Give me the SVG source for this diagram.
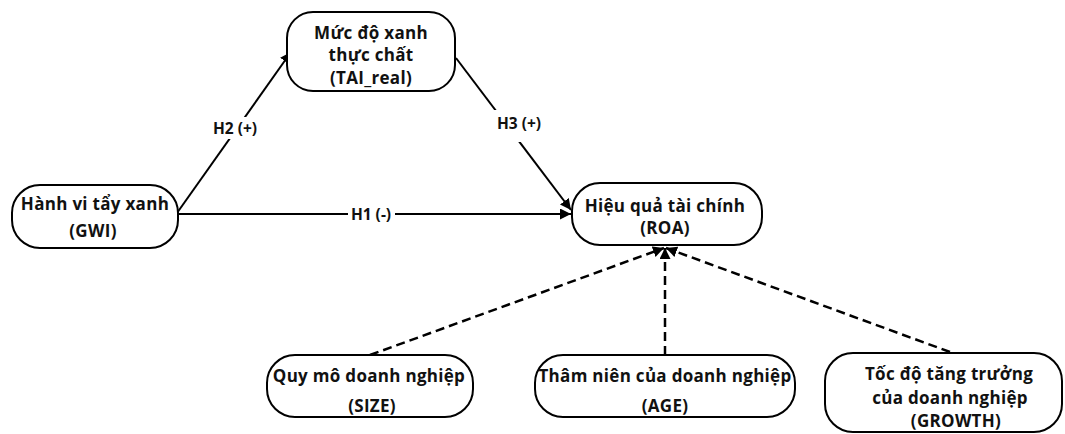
<svg xmlns="http://www.w3.org/2000/svg" width="1065" height="434" viewBox="0 0 1065 434">
<style>
.box{fill:#fff;stroke:#000;stroke-width:2}
.t{font-family:"Open Sans","Liberation Sans",sans-serif;font-weight:700;font-size:17px;letter-spacing:0.3px;fill:#111;text-anchor:middle;dominant-baseline:central}
.lbl{font-family:"Open Sans","Liberation Sans",sans-serif;font-weight:700;font-size:15.5px;fill:#111;text-anchor:middle;dominant-baseline:central}
.ln{stroke:#000;stroke-width:2;fill:none}
.dash{stroke:#000;stroke-width:2.5;fill:none;stroke-dasharray:9 5}
</style>
<defs>
<marker id="arr" viewBox="0 0 10 10" refX="10" refY="5" markerWidth="11" markerHeight="11" markerUnits="userSpaceOnUse" orient="auto">
<path d="M0,0 L10,5 L0,10 z" fill="#000"/>
</marker>
</defs>
<rect width="1065" height="434" fill="#fff"/>
<g id="connectors">
<line class="ln" x1="177" y1="213" x2="291" y2="52" marker-end="url(#arr)"/>
<line class="ln" x1="178" y1="214" x2="571" y2="214" marker-end="url(#arr)"/>
<line class="ln" x1="456" y1="58" x2="571" y2="210" marker-end="url(#arr)"/>
<line class="dash" x1="370" y1="355" x2="664" y2="248" marker-end="url(#arr)"/>
<line class="dash" x1="665" y1="355" x2="665" y2="248" marker-end="url(#arr)"/>
<line class="dash" x1="950" y1="352" x2="666" y2="248" marker-end="url(#arr)"/>
<rect x="209" y="117" width="52" height="22" fill="#fff"/>
<text class="lbl" x="235" y="128">H2 (+)</text>
<rect x="348" y="204" width="47" height="20" fill="#fff"/>
<text class="lbl" x="371" y="214">H1 (-)</text>
<rect x="493" y="110" width="52" height="32" fill="#fff"/>
<text class="lbl" x="519" y="123">H3 (+)</text>
</g>
<g id="node-tai">
<rect class="box" x="287" y="12" width="168" height="79" rx="26"/>
<text class="t" x="371" y="32">Mức độ xanh</text>
<text class="t" x="371" y="54">thực chất</text>
<text class="t" x="371" y="77">(TAI_real)</text>
</g>
<g id="node-gwi">
<rect class="box" x="12" y="185" width="166" height="63" rx="28"/>
<text class="t" x="95" y="203">Hành vi tẩy xanh</text>
<text class="t" x="93" y="230">(GWI)</text>
</g>
<g id="node-roa">
<rect class="box" x="572" y="183" width="190" height="62" rx="28"/>
<text class="t" x="665" y="205">Hiệu quả tài chính</text>
<text class="t" x="665" y="227">(ROA)</text>
</g>
<g id="node-size">
<rect class="box" x="267" y="355" width="206" height="62" rx="28"/>
<text class="t" x="369" y="375">Quy mô doanh nghiệp</text>
<text class="t" x="372" y="405">(SIZE)</text>
</g>
<g id="node-age">
<rect class="box" x="535" y="355" width="260" height="62" rx="28"/>
<text class="t" x="665" y="375">Thâm niên của doanh nghiệp</text>
<text class="t" x="665" y="405">(AGE)</text>
</g>
<g id="node-growth">
<rect class="box" x="825" y="353" width="237" height="79" rx="28"/>
<text class="t" x="949" y="373">Tốc độ tăng trưởng</text>
<text class="t" x="950" y="397">của doanh nghiệp</text>
<text class="t" x="956" y="420">(GROWTH)</text>
</g>
</svg>
